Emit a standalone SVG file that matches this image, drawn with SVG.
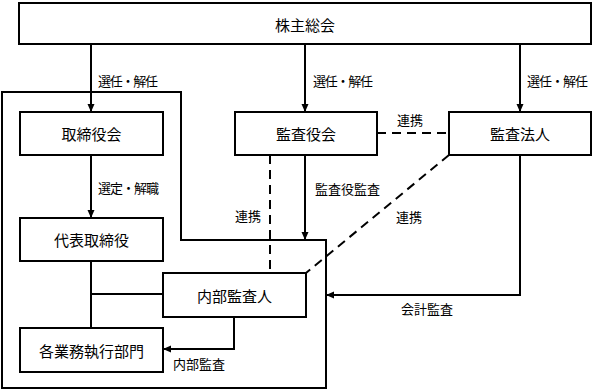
<svg xmlns="http://www.w3.org/2000/svg" width="598" height="390" viewBox="0 0 598 390">
<style>
.box{fill:#fff;stroke:#000;stroke-width:2}
.frame{fill:none;stroke:#000;stroke-width:2}
.t{font-family:"Noto Sans CJK JP","Noto Sans CJK SC",sans-serif;font-size:15px;fill:#000;text-anchor:middle;dominant-baseline:central}
.l{font-family:"Noto Sans CJK JP","Noto Sans CJK SC",sans-serif;font-size:13px;fill:#000;dominant-baseline:central}
.c{fill:none;stroke:#000;stroke-width:2}
.d{fill:none;stroke:#000;stroke-width:2;stroke-dasharray:9 6}
</style>
<defs>
<marker id="ah" markerUnits="userSpaceOnUse" markerWidth="8" markerHeight="8" refX="8" refY="4" orient="auto">
<path d="M0,0.5 L8,4 L0,7.5 z" fill="#000"/>
</marker>
</defs>
<rect width="598" height="390" fill="#fff"/>
<g id="company-frame">
<path class="frame" d="M2,92 H181 V240 H326 V388 H2 Z"/>
</g>
<g id="connectors">
<line class="c" x1="91" y1="44" x2="91" y2="112" marker-end="url(#ah)"/>
<line class="c" x1="305" y1="44" x2="305" y2="112" marker-end="url(#ah)"/>
<line class="c" x1="520" y1="44" x2="520" y2="112" marker-end="url(#ah)"/>
<line class="c" x1="91" y1="155" x2="91" y2="218" marker-end="url(#ah)"/>
<line class="c" x1="305" y1="155" x2="305" y2="240" marker-end="url(#ah)"/>
<line class="d" x1="377" y1="133" x2="449" y2="133"/>
<line class="d" x1="270" y1="155" x2="270" y2="273"/>
<line class="d" x1="449" y1="155" x2="306" y2="273"/>
<polyline class="c" points="91,261 91,328"/>
<polyline class="c" points="91,294 163,294"/>
<polyline class="c" points="234,317 234,349 163,349" marker-end="url(#ah)"/>
<polyline class="c" points="520,155 520,295 326,295" marker-end="url(#ah)"/>
<text class="l" x="98" y="80" textLength="60">選任・解任</text>
<text class="l" x="313" y="80" textLength="60">選任・解任</text>
<text class="l" x="527" y="80" textLength="61">選任・解任</text>
<text class="l" x="98" y="187" textLength="61">選定・解職</text>
<text class="l" x="315" y="188">監査役監査</text>
<text class="l" x="397" y="119">連携</text>
<text class="l" x="235" y="215">連携</text>
<text class="l" x="396" y="216">連携</text>
<text class="l" x="401" y="308">会計監査</text>
<text class="l" x="173" y="363">内部監査</text>
</g>
<g id="shareholders">
<rect class="box" x="19" y="3" width="572" height="41"/>
<text class="t" x="305" y="24">株主総会</text>
</g>
<g id="board">
<rect class="box" x="20" y="112" width="143" height="43"/>
<text class="t" x="91.5" y="133.5">取締役会</text>
</g>
<g id="audit-board">
<rect class="box" x="235" y="112" width="142" height="43"/>
<text class="t" x="306" y="133.5">監査役会</text>
</g>
<g id="audit-firm">
<rect class="box" x="449" y="112" width="142" height="43"/>
<text class="t" x="520" y="133.5">監査法人</text>
</g>
<g id="representative">
<rect class="box" x="20" y="218" width="143" height="43"/>
<text class="t" x="91.5" y="239.5">代表取締役</text>
</g>
<g id="internal-auditor">
<rect class="box" x="163" y="273" width="143" height="44"/>
<text class="t" x="234.5" y="295">内部監査人</text>
</g>
<g id="departments">
<rect class="box" x="20" y="328" width="143" height="44"/>
<text class="t" x="91.5" y="350">各業務執行部門</text>
</g>
</svg>
